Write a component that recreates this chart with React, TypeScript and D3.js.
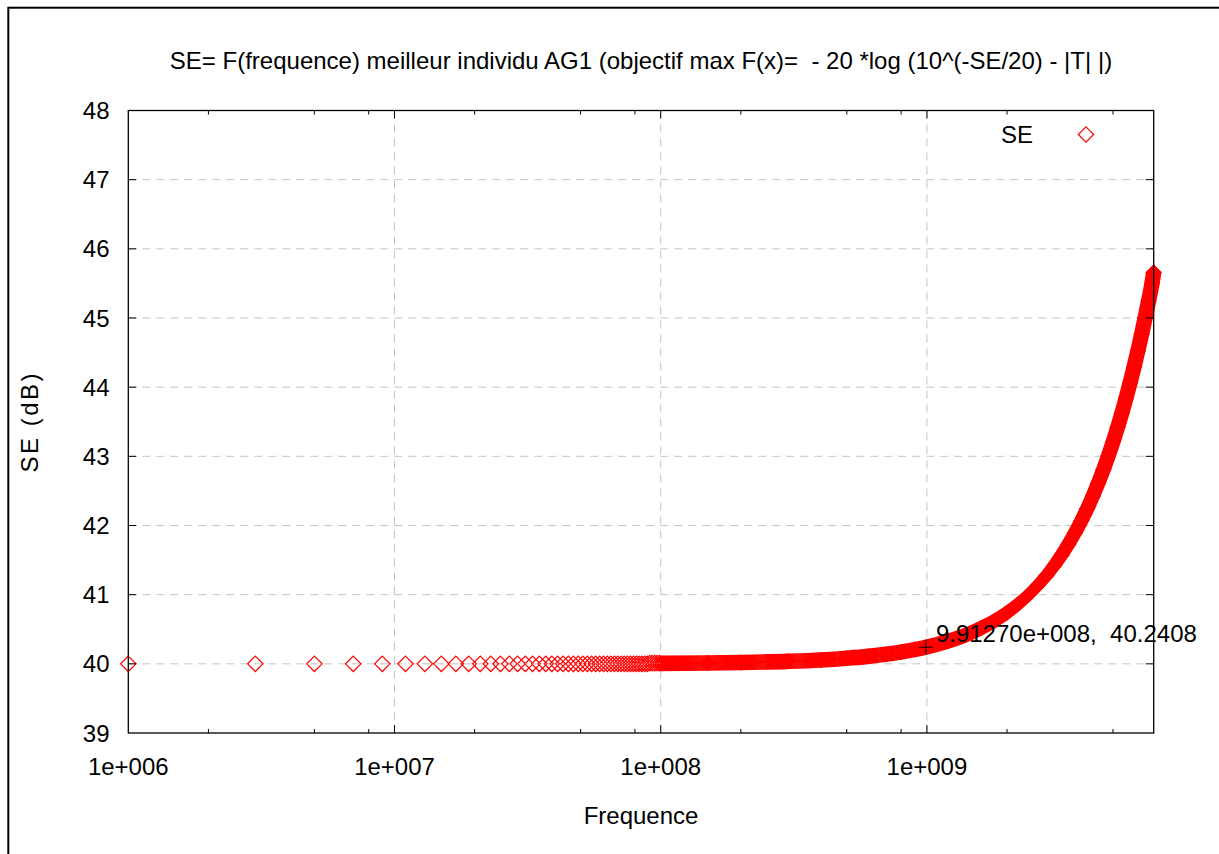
import React from "react";
import * as d3 from "d3";

const TITLE =
  "SE= F(frequence) meilleur individu AG1 (objectif max F(x)=  - 20 *log (10^(-SE/20) - |T| |)";
const X_LABEL = "Frequence";
const Y_LABEL = "SE (dB)";
const SERIES_NAME = "SE";

const xDomain = [1e6, 7.11e9];
const yDomain = [39, 48];

const xTickValues = [1e6, 1e7, 1e8, 1e9];
const xTickLabels = ["1e+006", "1e+007", "1e+008", "1e+009"];
const xMinorTicks = [2e6, 5e6, 8e6, 2e7, 5e7, 8e7, 2e8, 5e8, 8e8, 2e9, 5e9];
const yTickValues = [39, 40, 41, 42, 43, 44, 45, 46, 47, 48];

// Individual samples below 100 MHz (2 MHz step), in MHz
const lowFreqMHz = [
  1, 3, 5, 7, 9, 11, 13, 15, 17, 19, 21, 23, 25, 27, 29, 31, 33, 35, 37, 39,
  41, 43, 45, 47, 49, 51, 53, 55, 57, 59, 61, 63, 65, 67, 69, 71, 73, 75, 77, 79,
  81, 83, 85, 87, 89, 91, 93, 95, 97, 99,
];
const lowSE = [
  40.0, 40.0, 40.0, 40.0, 40.0, 40.0, 40.0, 40.0, 40.0, 40.0,
  40.0, 40.0, 40.0, 40.0, 40.0, 40.0, 40.0, 40.0, 40.0, 40.0,
  40.0, 40.0, 40.0, 40.0, 40.0, 40.0, 40.0, 40.0, 40.0, 40.0,
  40.0, 40.0, 40.0, 40.0, 40.0, 40.0, 40.0, 40.0, 40.0, 40.0,
  40.0, 40.0, 40.0, 40.0, 40.0, 40.01, 40.01, 40.01, 40.01, 40.01,
];

// Samples from 100 MHz up, where the markers merge into a band, in GHz
const highFreqGHz = [
  0.1, 0.15, 0.2, 0.3, 0.4, 0.5, 0.6, 0.7, 0.8, 0.9, 0.99127, 1.2, 1.4, 1.6,
  1.8, 2.0, 2.2, 2.4, 2.6, 2.8, 3.0, 3.2, 3.4, 3.6, 3.8, 4.0, 4.2, 4.4, 4.6,
  4.8, 5.0, 5.2, 5.4, 5.6, 5.8, 6.0, 6.2, 6.4, 6.6, 6.8, 7.0, 7.11,
];
const highSE = [
  40.006, 40.012, 40.019, 40.036, 40.056, 40.081, 40.108, 40.138, 40.171,
  40.206, 40.2408, 40.327, 40.418, 40.518, 40.625, 40.74, 40.862, 40.991,
  41.127, 41.268, 41.416, 41.57, 41.73, 41.896, 42.067, 42.244, 42.427,
  42.614, 42.807, 43.005, 43.207, 43.415, 43.627, 43.845, 44.067, 44.294,
  44.525, 44.76, 45.001, 45.245, 45.494, 45.66,
];

const markedFreq = 9.9127e8;
const markedSE = 40.2408;
const markedLabel = "9.91270e+008,  40.2408";

const W = 1219;
const H = 854;
const FONT = "'Liberation Sans', Arial, Helvetica, sans-serif";
const RED = "#ff0000";

type Pt = { px: number; py: number };

export default function App() {
  const left = 128.3;
  const right = 1153.7;
  const top = 110.5;
  const bottom = 733;

  const x = d3.scaleLog().domain(xDomain).range([left, right]);
  const y = d3.scaleLinear().domain(yDomain).range([bottom, top]);

  const lowPts: Pt[] = lowFreqMHz.map((f, i) => ({ px: x(f * 1e6), py: y(lowSE[i]) }));
  const highPts: Pt[] = highFreqGHz.map((f, i) => ({ px: x(f * 1e9), py: y(highSE[i]) }));

  const h = 7.7; // marker half-diagonal
  const diamond = (cx: number, cy: number) =>
    `M${cx},${cy - h}L${cx + h},${cy}L${cx},${cy + h}L${cx - h},${cy}Z`;

  const line = d3
    .line<Pt>()
    .x((d) => d.px)
    .y((d) => d.py)
    .curve(d3.curveMonotoneX);
  const bandPath = line(highPts) || "";

  // Sweep the marker's two diagonals along the curve so the merged band has the marker's footprint
  const offsets: [number, number][] = [];
  for (let d = -(h - 0.7); d <= h - 0.7 + 1e-6; d += 1) {
    offsets.push([d, 0]);
    offsets.push([0, d]);
  }

  const gridY = yTickValues.filter((v) => v > yDomain[0] && v < yDomain[1]);
  const gridX = xTickValues.filter((v) => v > xDomain[0] && v < xDomain[1]);

  const mx = x(markedFreq);
  const my = y(markedSE);

  return (
    <svg
      width={W}
      height={H}
      style={{ position: "absolute", left: 0, top: 0, background: "#fff" }}
      fontFamily={FONT}
    >
      <rect x={0} y={0} width={W} height={H} fill="#fff" />
      {/* page border */}
      <rect x={8.3} y={7.7} width={2000} height={2000} fill="none" stroke="#000" strokeWidth={2} />

      {/* grid */}
      <g stroke="#c4c4c4" strokeWidth={1} strokeDasharray="8,6">
        {gridY.map((v) => (
          <line key={`gy${v}`} x1={left} x2={right} y1={y(v)} y2={y(v)} />
        ))}
        {gridX.map((v) => (
          <line key={`gx${v}`} x1={x(v)} x2={x(v)} y1={top} y2={bottom} />
        ))}
      </g>

      {/* merged band */}
      <g fill="none" stroke={RED} strokeWidth={1.6}>
        {offsets.map(([dx, dy], i) => (
          <path key={`o${i}`} d={bandPath} transform={`translate(${dx},${dy})`} />
        ))}
      </g>
      <g fill={RED} stroke={RED} strokeWidth={1}>
        {highPts.map((p, i) => (
          <path key={`hp${i}`} d={diamond(p.px, p.py)} />
        ))}
      </g>

      {/* separate markers */}
      <g fill="none" stroke={RED} strokeWidth={1.2}>
        {lowPts.map((p, i) => (
          <path key={`lp${i}`} d={diamond(p.px, p.py)} />
        ))}
      </g>
      <g fill="#ff9a9a">
        {lowPts.map((p, i) => (
          <rect key={`lc${i}`} x={p.px - 0.5} y={p.py - 0.5} width={1} height={1} />
        ))}
      </g>

      {/* ticks */}
      <g stroke="#000" strokeWidth={1}>
        {gridY.map((v) => (
          <g key={`ty${v}`}>
            <line x1={left} x2={left + 8} y1={y(v)} y2={y(v)} />
            <line x1={right} x2={right - 8} y1={y(v)} y2={y(v)} />
          </g>
        ))}
        {gridX.map((v) => (
          <g key={`tx${v}`}>
            <line x1={x(v)} x2={x(v)} y1={bottom} y2={bottom - 8} />
            <line x1={x(v)} x2={x(v)} y1={top} y2={top + 8} />
          </g>
        ))}
        {xMinorTicks.map((v) => (
          <g key={`tm${v}`}>
            <line x1={x(v)} x2={x(v)} y1={bottom} y2={bottom - 4} />
            <line x1={x(v)} x2={x(v)} y1={top} y2={top + 4} />
          </g>
        ))}
      </g>

      {/* frame */}
      <rect
        x={left}
        y={top}
        width={right - left}
        height={bottom - top}
        fill="none"
        stroke="#000"
        strokeWidth={1.3}
      />

      {/* tick labels */}
      <g fontSize={24} fill="#000">
        {yTickValues.map((v) => (
          <text key={`yl${v}`} x={109.5} y={y(v) + 8.6} textAnchor="end">
            {v}
          </text>
        ))}
        {xTickValues.map((v, i) => (
          <text key={`xl${v}`} x={x(v)} y={775} textAnchor="middle">
            {xTickLabels[i]}
          </text>
        ))}
      </g>

      {/* marked point */}
      <g stroke="#000" strokeWidth={1}>
        <line x1={mx - 7} x2={mx + 7} y1={my} y2={my} />
        <line x1={mx} x2={mx} y1={my - 7} y2={my + 7} />
      </g>
      <text x={mx + 10} y={my - 5.5} fontSize={24} style={{ whiteSpace: "pre" }}>
        {markedLabel}
      </text>

      {/* legend */}
      <text x={1033} y={143} fontSize={24} textAnchor="end">
        {SERIES_NAME}
      </text>
      <path
        d={`M1086,${134.5 - h}L${1086 + h},134.5L1086,${134.5 + h}L${1086 - h},134.5Z`}
        fill="none"
        stroke={RED}
        strokeWidth={1.2}
      />

      {/* titles */}
      <text x={(left + right) / 2} y={68.5} fontSize={24} textAnchor="middle" style={{ whiteSpace: "pre" }}>
        {TITLE}
      </text>
      <text x={(left + right) / 2} y={824} fontSize={24} textAnchor="middle">
        {X_LABEL}
      </text>
      <text
        transform={`translate(38,${(top + bottom) / 2}) rotate(-90)`}
        fontSize={24}
        textAnchor="middle"
        letterSpacing={2.5}
      >
        {Y_LABEL}
      </text>
    </svg>
  );
}
